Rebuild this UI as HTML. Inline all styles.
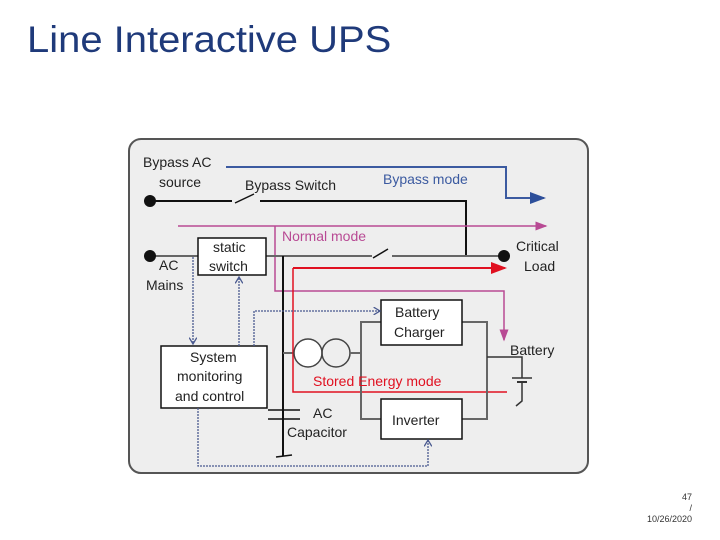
<!DOCTYPE html>
<html><head><style>
body{margin:0;width:720px;height:540px;background:#fff;position:relative;overflow:hidden;font-family:"Liberation Sans",sans-serif}
.t{position:absolute}
</style></head><body>
<div class="t" style="left:27px;top:19px;font-size:37px;transform:scaleX(1.08);transform-origin:0 0;color:#1f3a7a">Line Interactive UPS</div>
<div class="t" style="left:640px;top:492px;font-size:9px;color:#333;text-align:right;width:52px;line-height:11px">47<br>/<br>10/26/2020</div>
<svg width="720" height="540" style="position:absolute;left:0;top:0" font-family="Liberation Sans, sans-serif">
<defs>
<marker id="ab" markerWidth="8" markerHeight="6" refX="7" refY="3" orient="auto"><path d="M0,0L8,3L0,6z" fill="#2d4f9a"/></marker>
<marker id="ap" markerWidth="8" markerHeight="6" refX="7" refY="3" orient="auto"><path d="M0,0L8,3L0,6z" fill="#b84a94"/></marker>
<marker id="ar" markerWidth="8" markerHeight="6" refX="7" refY="3" orient="auto"><path d="M0,0L8,3L0,6z" fill="#e01020"/></marker>
<marker id="ad" markerWidth="6" markerHeight="6" refX="5" refY="3" orient="auto"><path d="M0,0L5,3L0,6" fill="none" stroke="#4a5a90"/></marker>
</defs>
<rect x="129" y="139" width="459" height="334" rx="12" fill="#eeeeee" stroke="#555" stroke-width="2"/>
<polyline points="226,167 506,167 506,198 544,198" fill="none" stroke="#3b5aa0" stroke-width="2" marker-end="url(#ab)"/>
<line x1="150" y1="201" x2="232" y2="201" stroke="#111" stroke-width="2"/>
<line x1="235" y1="203" x2="254" y2="194" stroke="#111" stroke-width="1.5"/>
<polyline points="260,201 466,201 466,256" fill="none" stroke="#111" stroke-width="2"/>
<circle cx="150" cy="201" r="6" fill="#111"/>
<line x1="178" y1="226" x2="546" y2="226" stroke="#b84a94" stroke-width="1.5" marker-end="url(#ap)"/>
<polyline points="275,226 275,291 504,291 504,340" fill="none" stroke="#b84a94" stroke-width="1.5" marker-end="url(#ap)"/>
<line x1="150" y1="256" x2="198" y2="256" stroke="#666" stroke-width="2"/>
<line x1="266" y1="256" x2="372" y2="256" stroke="#666" stroke-width="2"/>
<line x1="373" y1="258" x2="388" y2="249" stroke="#111" stroke-width="1.5"/>
<line x1="392" y1="256" x2="504" y2="256" stroke="#666" stroke-width="2"/>
<circle cx="150" cy="256" r="6" fill="#111"/>
<circle cx="504" cy="256" r="6" fill="#111"/>
<rect x="198" y="238" width="68" height="37" fill="#fff" stroke="#111" stroke-width="1.5"/>
<line x1="283" y1="256" x2="283" y2="456" stroke="#111" stroke-width="2"/>
<line x1="276" y1="457" x2="292" y2="455" stroke="#111" stroke-width="1.5"/>
<line x1="268" y1="410" x2="300" y2="410" stroke="#111" stroke-width="1.5"/>
<line x1="268" y1="419" x2="300" y2="419" stroke="#111" stroke-width="1.5"/>
<line x1="283" y1="353" x2="294" y2="353" stroke="#666" stroke-width="2"/>
<line x1="293" y1="268" x2="505" y2="268" stroke="#e01020" stroke-width="2" marker-end="url(#ar)"/>
<polyline points="293,268 293,392 507,392" fill="none" stroke="#e01020" stroke-width="1.5"/>
<circle cx="308" cy="353" r="14" fill="#fff" stroke="#444" stroke-width="1.5"/>
<circle cx="336" cy="353" r="14" fill="none" stroke="#444" stroke-width="1.5"/>
<line x1="350" y1="353" x2="361" y2="353" stroke="#666" stroke-width="2"/>
<rect x="361" y="322" width="126" height="97" fill="none" stroke="#666" stroke-width="2"/>
<rect x="381" y="300" width="81" height="45" fill="#fff" stroke="#111" stroke-width="1.5"/>
<rect x="381" y="399" width="81" height="40" fill="#fff" stroke="#111" stroke-width="1.5"/>
<polyline points="487,357 522,357 522,378" fill="none" stroke="#333" stroke-width="1.5"/>
<line x1="512" y1="378" x2="532" y2="378" stroke="#333" stroke-width="1.5"/>
<line x1="517" y1="382" x2="527" y2="382" stroke="#333" stroke-width="2"/>
<polyline points="522,382 522,401 516,406" fill="none" stroke="#333" stroke-width="1.5"/>
<rect x="161" y="346" width="106" height="62" fill="#fff" stroke="#111" stroke-width="1.5"/>
<g fill="none" stroke="#4a5a90" stroke-width="1.3" stroke-dasharray="2,1">
<line x1="193" y1="257" x2="193" y2="344" marker-end="url(#ad)"/>
<line x1="239" y1="346" x2="239" y2="277" marker-end="url(#ad)"/>
<polyline points="254,346 254,311 380,311" marker-end="url(#ad)"/>
<polyline points="198,408 198,466 428,466 428,440" marker-end="url(#ad)"/>
</g>
<g font-size="14" fill="#222">
<text x="143" y="167">Bypass AC</text>
<text x="159" y="187">source</text>
<text x="245" y="190">Bypass Switch</text>
<text x="383" y="184" fill="#3b5aa0">Bypass mode</text>
<text x="282" y="241" fill="#b84a94">Normal mode</text>
<text x="213" y="252">static</text>
<text x="209" y="271">switch</text>
<text x="159" y="270">AC</text>
<text x="146" y="290">Mains</text>
<text x="516" y="251">Critical</text>
<text x="524" y="271">Load</text>
<text x="395" y="317">Battery</text>
<text x="394" y="337">Charger</text>
<text x="510" y="355">Battery</text>
<text x="190" y="362">System</text>
<text x="177" y="381">monitoring</text>
<text x="175" y="401">and control</text>
<text x="313" y="386" fill="#e01020">Stored Energy mode</text>
<text x="313" y="418">AC</text>
<text x="287" y="437">Capacitor</text>
<text x="392" y="425">Inverter</text>
</g>
</svg>
</body></html>
